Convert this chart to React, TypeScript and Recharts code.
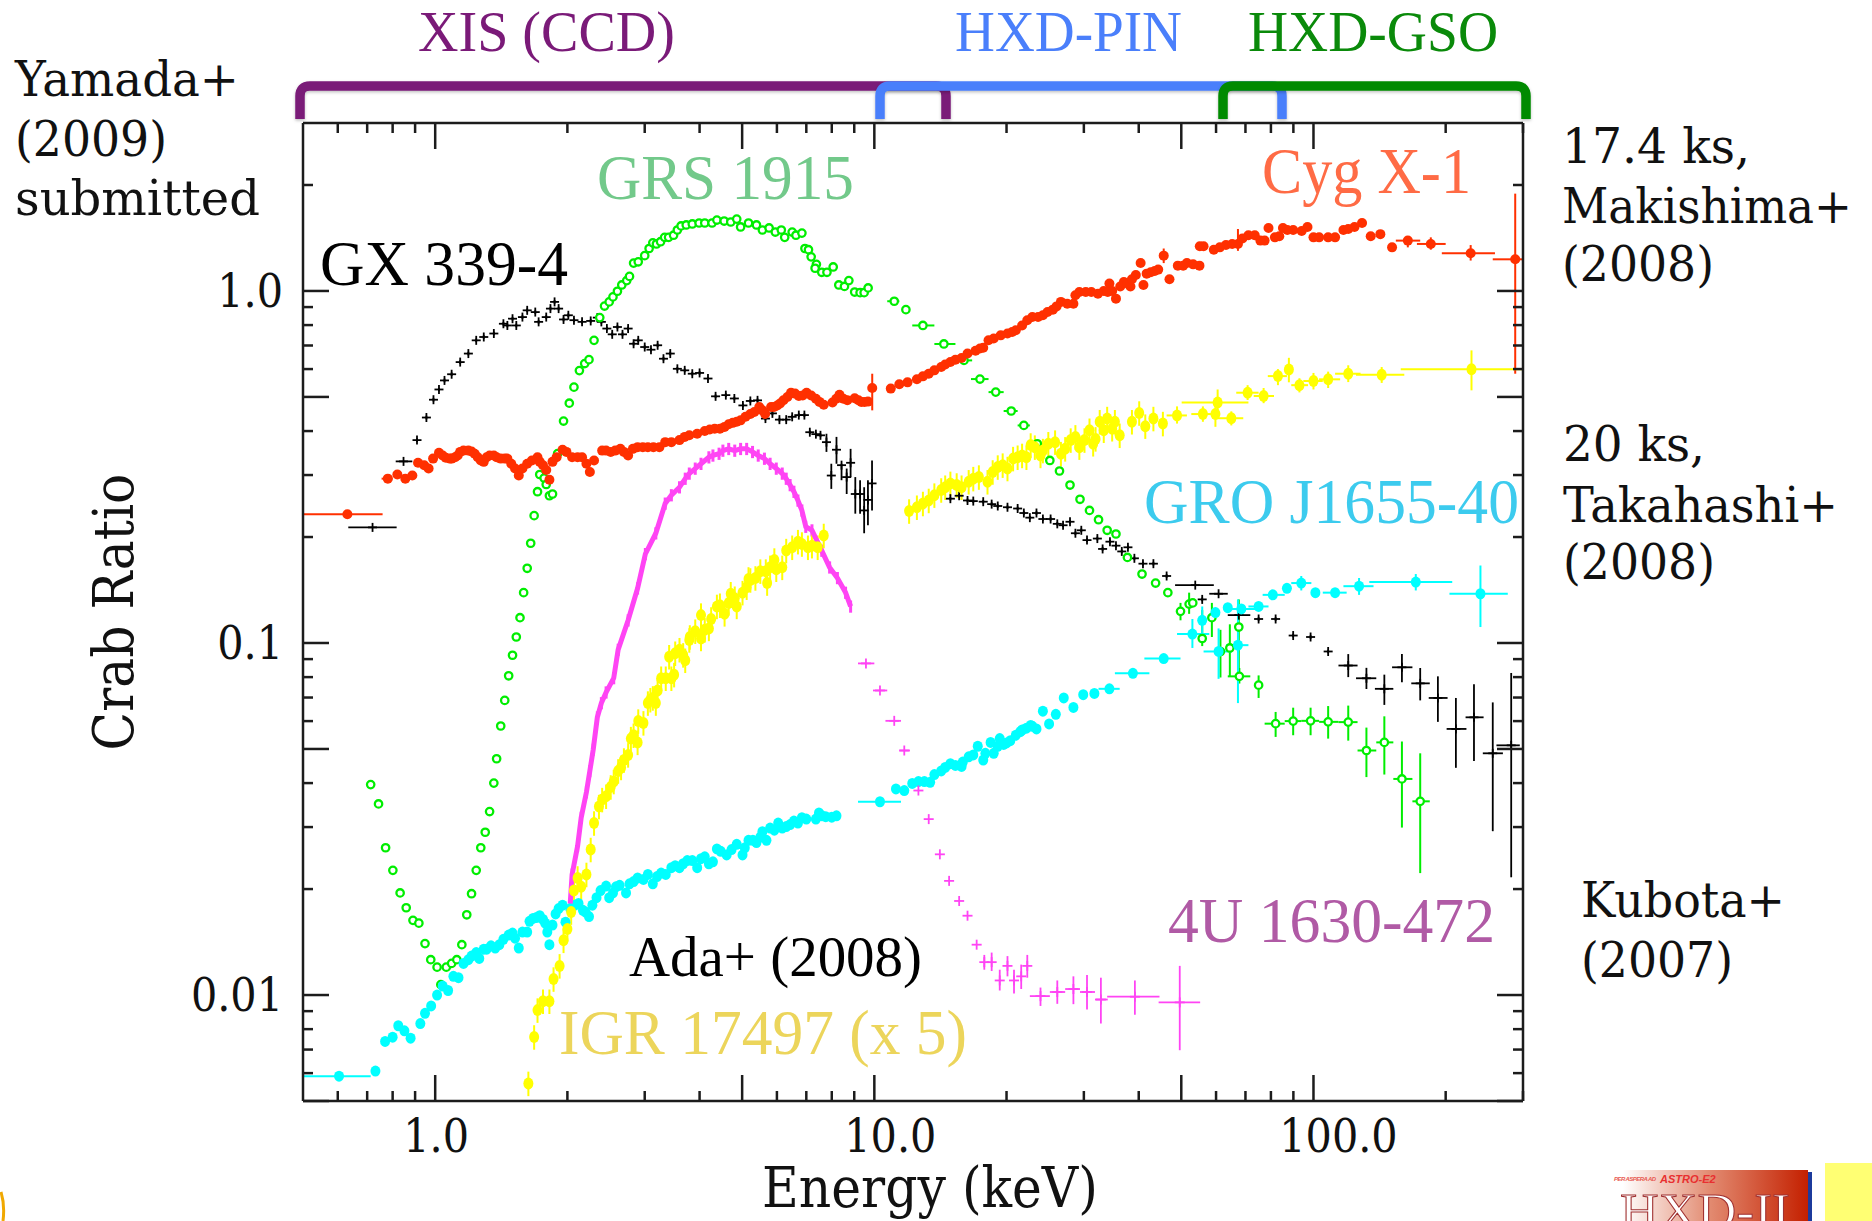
import React from 'react';
import { ScatterChart, Scatter, XAxis, YAxis, ErrorBar } from 'recharts';

// Rows: [E, ratio] | [E, ratio, yLo, yHi] | [E, ratio, xLo, xHi, yLo, yHi]
const gxRows: number[][] = [
  [0.72,0.213,0.634,0.817,0.213,0.213],[0.847,0.328,0.813,0.887,0.328,0.328],[0.909,0.377],[0.955,0.437],[0.991,0.491],[1.02,0.525],[1.05,0.557],[1.09,0.58],[1.14,0.628],[1.19,0.664],[1.24,0.724],[1.29,0.74],[1.36,0.757],[1.43,0.807],[1.46,0.798],[1.5,0.834],[1.53,0.798],[1.58,0.843],[1.62,0.881],[1.69,0.871],[1.72,0.817],[1.79,0.843],[1.83,0.891],[1.87,0.931],[1.91,0.891],[1.96,0.83],[2.01,0.853],[2.07,0.826],[2.16,0.817],[2.26,0.822],[2.34,0.84],[2.39,0.817],[2.46,0.782],[2.53,0.753],[2.6,0.79],[2.67,0.753],[2.75,0.782],[2.83,0.708],[2.9,0.724],[3.0,0.693],[3.1,0.681],[3.21,0.701],[3.31,0.642],[3.43,0.664],[3.56,0.601],[3.7,0.595],[3.85,0.582],[4.0,0.585],[4.18,0.564],[4.35,0.502],[4.59,0.506],[4.8,0.495],[5.02,0.473],[5.22,0.487],[5.42,0.489],[5.65,0.434],[5.86,0.449],[6.08,0.431],[6.3,0.431],[6.5,0.439],[6.73,0.444],[6.93,0.444],[7.13,0.397],[7.36,0.392],[7.54,0.389],
  [7.78,0.372,0.349,0.393],[7.98,0.299,0.274,0.323],[8.2,0.354,0.323,0.385],[8.42,0.32,0.29,0.323],[8.65,0.296,0.265,0.313],[8.83,0.325,0.296,0.356],[9.05,0.265,0.233,0.296],[9.28,0.265,0.233,0.29],[9.48,0.238,0.205,0.277],[9.67,0.255,0.216,0.29],[9.88,0.284,0.238,0.33],
  [14.9,0.257],[15.6,0.262],[16.3,0.254],[16.8,0.253],[17.7,0.252],[18.5,0.248],[19.1,0.245],[20.1,0.243],[21.2,0.241],[21.9,0.234],[22.6,0.227],[23.4,0.234],[24.2,0.225],[25.2,0.225],[26.1,0.218],[26.9,0.216],[27.9,0.221],[28.7,0.205],[29.6,0.209],[30.5,0.196],[32.2,0.198],[33.1,0.185],[34.4,0.194],[35.5,0.189],[36.6,0.182],[37.8,0.187],[39.1,0.174],[40.9,0.168],[43.2,0.168],[46.3,0.155],
  [53.8,0.146,48.4,59.3,0.146,0.146],[55.8,0.133],[60.8,0.138,57.9,63.8,0.138,0.138],[67.6,0.12,63.8,71.8,0.12,0.12],[75,0.117],[82,0.117],[89.9,0.105],[98.5,0.104],[108,0.0946],
  [120,0.0863,114,126,0.08,0.093],[132,0.0794,125,139,0.074,0.085],[145,0.0741,138,152,0.0667,0.0813],[159,0.0853,151,168,0.0773,0.0931],[175,0.0768,167,184,0.0687,0.0849],[192,0.0698,183,202,0.0597,0.0804],[211,0.057,201,223,0.0442,0.0698],[232,0.0615,222,244,0.0462,0.0764],[256,0.0486,243,270,0.0292,0.0678],[282,0.0512,261,295,0.0216,0.0822],
];

const grsRows: number[][] = [
  [0.713,0.0396],[0.743,0.0349],[0.771,0.0262],[0.801,0.0226],[0.832,0.0195],[0.859,0.0177],[0.89,0.0163],[0.918,0.016],[0.948,0.014],[0.977,0.0126],[1.01,0.012],[1.03,0.0107],[1.06,0.012],[1.09,0.0123],[1.12,0.0126],[1.15,0.0139],[1.18,0.0169],[1.21,0.0194],[1.24,0.0226],[1.27,0.0262],[1.3,0.029],[1.33,0.0332],[1.36,0.04],[1.38,0.0469],[1.41,0.0581],[1.44,0.0687],[1.47,0.0807],[1.5,0.0923],[1.53,0.104],[1.56,0.118],[1.59,0.139],[1.62,0.163],[1.65,0.192],[1.68,0.23],[1.71,0.269],[1.73,0.301],[1.77,0.294],[1.79,0.282],[1.82,0.262],[1.85,0.265],[1.9,0.345],[1.96,0.427],[2.02,0.48],[2.07,0.533],[2.13,0.594],[2.19,0.622],[2.24,0.638],[2.3,0.724],[2.37,0.84],[2.43,0.906],[2.49,0.931],[2.54,0.962],[2.6,0.998],[2.66,1.04],[2.73,1.07],[2.77,1.1],[2.83,1.2],[2.9,1.21],[3.0,1.26],[3.07,1.32],[3.13,1.37],[3.19,1.36],[3.26,1.38],[3.33,1.42],[3.4,1.42],[3.49,1.44],[3.56,1.49],[3.63,1.53],[3.73,1.54],[3.85,1.55],[3.99,1.56],[4.11,1.56],[4.27,1.56],[4.38,1.59],[4.55,1.58],[4.71,1.57],[4.86,1.6],[4.96,1.52],[5.17,1.56],[5.39,1.54],[5.56,1.49],[5.76,1.51],[5.95,1.47],[6.14,1.49],[6.25,1.42],[6.5,1.47],[6.63,1.44],[6.84,1.46],[6.95,1.32],[7.08,1.31],[7.18,1.25],[7.38,1.19],[7.33,1.16],[7.59,1.13],[7.8,1.13],[8.06,1.17],[8.3,1.04],[8.55,1.03],[8.75,1.07],[9.02,0.993],[9.28,0.989],[9.48,0.989],[9.68,1.02],
  [11.1,0.935,10.7,11.4,0.935,0.935],[11.8,0.885],[12.9,0.798,12.2,13.7,0.798,0.798],[14.4,0.707,13.7,15.3,0.707,0.707],[16,0.635,15.4,16.7,0.635,0.635],[17.4,0.562,16.6,18.2,0.562,0.562],[18.9,0.516,18.2,19.7,0.516,0.516],[20.5,0.456,19.7,21.2,0.456,0.456],[21.9,0.415,21.2,22.6,0.415,0.415],[23.5,0.368],[25.1,0.33],[26.4,0.308],[27.9,0.281],[29.4,0.256],[30.9,0.238],[32.4,0.224],[33.9,0.209],[35.5,0.204],[37.7,0.175],[40.7,0.157],[43.7,0.148],[46.6,0.139],
  [49.8,0.123,0.116,0.13],[52.1,0.129,0.121,0.139],[53.1,0.13],[55.8,0.103,0.098,0.124],[58.7,0.118,0.104,0.13],[61.4,0.0946,0.0798,0.109],[64.5,0.0968,0.0804,0.113],[67.6,0.111,0.0813,0.133],[67.8,0.0804,63.8,71.8,0.0767,0.0849],[75,0.0759,0.0698,0.0809],
  [82,0.059,77.4,86,0.0541,0.0637],[89.9,0.06,86,93.8,0.0547,0.0655],[98.5,0.0601,93.8,103,0.0547,0.0655],[108,0.0597,103,114,0.0535,0.0662],[120,0.0596,114,126,0.0528,0.0664],[132,0.0495,126,139,0.0416,0.0575],[145,0.0522,139,152,0.0423,0.0619],[159,0.0411,152,168,0.0299,0.0525],[175,0.0355,168,184,0.0222,0.0486],
];

const cygRows: number[][] = [
  [0.631,0.232,0.5,0.759,0.232,0.232],[0.78,0.293,0.755,0.8,0.293,0.293],[0.82,0.301],[0.855,0.293],[0.887,0.299],[0.914,0.325],[0.944,0.32],[0.966,0.313],[0.989,0.334],[1.02,0.347],[1.057,0.336],[1.09,0.334],[1.125,0.341],[1.16,0.352],[1.21,0.35],[1.25,0.337],[1.29,0.327],[1.33,0.341],[1.38,0.337],[1.44,0.334],[1.49,0.323],[1.55,0.299],[1.62,0.323],[1.71,0.337],[1.76,0.32],[1.82,0.291],[1.89,0.337],[1.95,0.354],[2.05,0.337],[2.16,0.337],[2.25,0.306],[2.3,0.33],[2.4,0.352],[2.51,0.349],[2.64,0.356],[2.75,0.341],[2.89,0.36],[3.05,0.36],[3.24,0.36],[3.34,0.372],[3.6,0.377],[3.79,0.389],[4.11,0.4],[4.33,0.406],[4.56,0.411],[4.76,0.422],[4.96,0.429],[5.22,0.447],[5.47,0.468],[5.64,0.447],[5.82,0.468],[6.01,0.473],[6.21,0.489],[6.46,0.514],[6.73,0.503],[7.01,0.514],[7.36,0.494],[7.67,0.475],[8.03,0.482],[8.33,0.507],[8.68,0.489],[9.02,0.496],[9.34,0.484],[9.67,0.485],[9.89,0.53,0.458,0.582],
  [10.9,0.528],[11.4,0.543],[12.5,0.561],[13.3,0.582],[14.2,0.608],[14.9,0.628],[15.8,0.645],[17.0,0.676],[17.7,0.69],[18.7,0.733],[20.1,0.757],[21.0,0.773],[21.7,0.798],[22.9,0.843],[24.2,0.853],[25.5,0.885],[26.6,0.931],[28.4,0.92],[29.3,0.993],[31.2,0.993],[33.3,1.0],[34.3,1.05],[35.5,0.951],[37.0,1.06],[38.3,1.03],[39.4,1.11],[40.4,1.2],[41.0,1.04],[42.6,1.13],[44.3,1.15],[45.6,1.26,1.2,1.32],[47.0,1.08],[49.1,1.18],[51.5,1.2],[55.0,1.18],[55.1,1.34],[59.3,1.31],[63.2,1.35],[67.3,1.36,1.3,1.5],[71.1,1.44],[75.7,1.39],[79.0,1.51],[81.7,1.42],[85.2,1.51],[89.9,1.49],[96.9,1.52],[100,1.42],[108,1.42],[112,1.42],[117,1.49],[124,1.52],[129,1.56],[135,1.43],[142,1.45],[151,1.33],
  [164,1.39,154,175,1.33,1.43],[185,1.36,172,200,1.31,1.42],[228,1.28,196,259,1.22,1.35],[288,1.23,256,300,0.582,1.89],
];
const cygFill: number[][] = [
  [1.04,0.341],[1.08,0.334],[1.11,0.337],[1.14,0.349],[1.19,0.352],[1.23,0.345],[1.27,0.33],[1.31,0.337],[1.36,0.341],[1.41,0.334],[1.46,0.334],[1.52,0.313],[1.58,0.313],[1.66,0.33],[1.73,0.327],[1.79,0.31],[1.85,0.327],[1.99,0.349],[2.11,0.337],[2.21,0.323],
  [2.45,0.352],[2.57,0.352],[2.69,0.349],[2.82,0.356],[2.97,0.36],[3.14,0.36],[3.45,0.372],[3.7,0.385],[3.95,0.393],[4.22,0.404],[4.45,0.406],[4.66,0.418],[4.86,0.425],[5.09,0.439],[5.33,0.453],[5.56,0.458],[5.91,0.468],[6.1,0.479],[6.34,0.5],[6.6,0.511],[6.87,0.505],[7.18,0.505],[7.5,0.484],[8.19,0.494],[8.5,0.494],[9.2,0.489],[9.5,0.484],
  [11.9,0.55],[12.9,0.572],[13.7,0.595],[14.5,0.618],[15.3,0.638],[16.3,0.664],[17.4,0.686],[18.2,0.724],[19.4,0.748],[20.6,0.765],[22.3,0.826],[23.6,0.843],[24.8,0.871],[26,0.904],[27.5,0.92],[28.7,0.972],[30.3,0.993],[32.3,0.982],[34,0.993],[34.8,1.0],[36.3,1.03],[37.7,1.05],[38.6,1.08],[41.7,1.12],[43.5,1.14],[50.5,1.18],[53.2,1.19],[56.2,1.34],[61.2,1.33],[65.3,1.36],[68.9,1.41],[73.5,1.44],[77.4,1.39],[83.6,1.43],[87.2,1.49],[94,1.48],[103,1.42],[120,1.5],
];

const groRows: number[][] = [
  [0.604,0.00588,0.5,0.713,0.00588,0.00588],[0.731,0.00608],[0.769,0.00738],[0.8,0.00759],[0.824,0.00818],[0.851,0.00791],[0.879,0.00754],[0.925,0.0083],[0.948,0.00887],[0.979,0.00931],[1.01,0.01],[1.04,0.0106],[1.07,0.0103],[1.1,0.0113],[1.13,0.0112],[1.16,0.0123],[1.21,0.0129],[1.26,0.0127],[1.31,0.0135],[1.37,0.0136],[1.43,0.0144],[1.5,0.015],[1.55,0.0136],[1.62,0.0151],[1.67,0.0165],[1.73,0.0168],[1.78,0.016],[1.82,0.0139],[1.88,0.017],[1.95,0.018],[1.98,0.0161],[2.12,0.0182],[2.17,0.0174],[2.24,0.0167],[2.33,0.0189],[2.45,0.0204],[2.49,0.0189],[2.58,0.0203],[2.72,0.0195],[2.77,0.0207],[2.89,0.0215],[3.05,0.022],[3.13,0.0207],[3.27,0.0222],[3.45,0.023],[3.6,0.023],[3.75,0.0241],[3.95,0.023],[4.11,0.0247],[4.29,0.0239],[4.38,0.026],[4.61,0.025],[4.86,0.0268],[5.01,0.025],[5.17,0.0275],[5.39,0.0271],[5.56,0.0291],[5.68,0.0275],[5.79,0.0298],[6.04,0.0308],[6.3,0.0301],[6.56,0.0312],[6.84,0.0319],[7.36,0.0316],[7.48,0.0329],[7.75,0.0321],[8.2,0.0323],
  [10.3,0.0354,9.18,11.5,0.0354,0.0354],[11.2,0.0385],[11.7,0.0381],[12.6,0.0404],[13.4,0.0402],[14.2,0.0433],[14.9,0.0454],[15.8,0.0446],[16.4,0.0475],[17.2,0.0509],[17.7,0.0465],[18.7,0.0486],[18.4,0.0522],[19.3,0.0535],[20,0.052],[21,0.0547],[21.7,0.0566],[22.7,0.0583],[23.4,0.057],[24.2,0.064],[25,0.0589],[25.9,0.0627],[27,0.0698],[28.4,0.0656],[29.9,0.0713],[31.7,0.0719],
  [34.3,0.0741,32.4,36.2,0.0741,0.0741],[38.8,0.082,35.3,42.3,0.082,0.082],[45.6,0.0903,41.2,49.8,0.0903,0.0903],[53,0.106,48.9,57.9,0.0968,0.117],[55.8,0.116,0.105,0.127],[59.8,0.122],[63.8,0.126],[68.5,0.125,63.2,75,0.125,0.125],[75,0.127,71.1,79,0.127,0.127],[80.8,0.137,76.6,86,0.137,0.137],[87,0.143],[93.8,0.148,89,98.9,0.141,0.155],[101,0.139],[112,0.139,105,119,0.139,0.139],[127,0.145,117,137,0.137,0.153],[171,0.149,134,207,0.141,0.157],[240,0.138,204,277,0.111,0.166],[60.8,0.0946,56.2,65.2,0.0791,0.11],[67.3,0.0986,63.2,71.1,0.0675,0.133],
];
const groFill: number[][] = [
  [1.19,0.0126],[1.24,0.0132],[1.29,0.0135],[1.34,0.0138],[1.4,0.0139],[1.47,0.0148],[1.52,0.0145],[1.58,0.0151],[1.64,0.0162],[1.7,0.0166],[1.76,0.0164],[1.8,0.0151],[1.85,0.0158],[1.91,0.0176],[2.03,0.0176],[2.08,0.018],[2.2,0.0172],[2.28,0.018],[2.38,0.0198],[2.54,0.0195],[2.63,0.0205],[2.83,0.021],[2.98,0.0213],[3.2,0.0217],[3.35,0.022],[3.52,0.0233],[3.67,0.0236],[3.85,0.0241],[4.03,0.0244],[4.2,0.0236],[4.47,0.0256],[4.73,0.0259],[5.07,0.0262],[5.29,0.0275],[5.5,0.0281],[5.92,0.0294],[6.17,0.0298],[6.43,0.0305],[6.7,0.0308],[7.0,0.0316],[7.6,0.0323],[8,0.032],
  [12.2,0.0399],[13,0.0404],[13.7,0.0423],[14.5,0.0443],[15.3,0.0449],[15.9,0.0459],[16.8,0.0481],[17.9,0.0486],[19.1,0.0509],[19.7,0.0515],[20.4,0.0528],[21.5,0.056],[22.2,0.0573],[22.9,0.058],
];

const u4Band: number[][] = [
  [2.03,0.0182],[2.05,0.022],[2.11,0.0265],[2.15,0.0319],[2.21,0.0377],[2.25,0.0433],[2.29,0.0498],[2.34,0.0615],[2.39,0.0675],[2.45,0.0724],[2.55,0.0795],[2.61,0.0957],[2.75,0.116],[2.89,0.143],[3.01,0.179],[3.18,0.205],[3.34,0.249],[3.45,0.263],[3.6,0.277],[3.71,0.293],[3.79,0.303],[3.91,0.313],[4.03,0.323],[4.2,0.337],[4.29,0.341],[4.43,0.345],[4.52,0.352],[4.66,0.356],[4.81,0.352],[4.96,0.356],[5.12,0.356],[5.28,0.349],[5.44,0.341],[5.62,0.334],[5.79,0.323],[5.98,0.313],[6.17,0.303],[6.3,0.293],[6.43,0.281],[6.56,0.269],[6.7,0.254],[6.84,0.238],[6.98,0.214],[7.21,0.209],[7.59,0.183],[7.91,0.164],[8.24,0.153],[8.6,0.139],[8.83,0.127],
];
const u4Rows: number[][] = [
  [9.57,0.0875,9.18,10,0.0875,0.0875],[10.3,0.0733,9.93,10.7,0.0733,0.0733],[11.1,0.0601,10.6,11.5,0.0601,0.0601],[11.7,0.0495,11.4,12.05,0.0495,0.0495],[12.6,0.0381],[13.3,0.0316],[14.1,0.0251],[14.8,0.0211],[15.6,0.0185],[16.3,0.0168],[17.1,0.0139],[17.8,0.0124,0.0118,0.013],[18.5,0.0124,0.0117,0.0132],[19.3,0.011,0.0103,0.0118],[20.1,0.0121,0.0113,0.0129],[20.8,0.011,0.0101,0.0118],[21.6,0.0113,0.0104,0.0122],[22.3,0.0121,0.0112,0.013],
  [23.9,0.00993,22.6,25.1,0.00931,0.0105],[26.1,0.0102,25.1,27.2,0.00944,0.011],[28.4,0.0104,27.2,29.4,0.00942,0.0113],[30.5,0.0102,29.4,31.8,0.0091,0.0114],[32.8,0.00971,31.8,34,0.0083,0.0112],[39.2,0.00989,33.9,44.6,0.00879,0.011],[49.6,0.00953,44.4,55.2,0.00697,0.0121],
];

const igrRows: number[][] = [
  [1.63,0.00561],[1.68,0.0076],[1.71,0.00906],[1.76,0.0096],[1.82,0.0096],[1.86,0.0111],[1.92,0.0121],[1.96,0.0143],[2.0,0.0154],[2.04,0.0172],[2.07,0.0198],[2.11,0.0215],[2.15,0.0203],[2.21,0.022],[2.26,0.0259],[2.3,0.0308],[2.36,0.0343],[2.45,0.0367],[2.51,0.039],[2.61,0.0433],[2.69,0.0465],[2.79,0.0535],[2.89,0.0522],[2.9,0.06],[3.09,0.069],[3.18,0.0675],[3.27,0.0794],[3.45,0.0794],[3.41,0.0914],[3.6,0.0957],[3.71,0.0893],[3.8,0.104],[4.03,0.103],[4.03,0.12],[4.2,0.11],[4.38,0.127],[4.56,0.121],[4.71,0.138],[4.86,0.127],[5.01,0.139],[5.17,0.152],[5.22,0.151],[5.5,0.16],[5.7,0.148],[5.79,0.164],[5.92,0.172],[6.17,0.164],[6.3,0.183],[6.5,0.187],[6.7,0.194],[7.06,0.187],[7.43,0.187],[7.67,0.202],
  [12,0.237],[12.5,0.243],[13.3,0.254],[14.2,0.272],[14.9,0.284],[15.8,0.277],[16.4,0.287],[17.3,0.296],[18.1,0.287],[19.1,0.316],[20.1,0.313],[21.2,0.337],[22.2,0.337],[23.2,0.36],[23.9,0.341],[24.9,0.368],[26.6,0.345],[28,0.377],[29.3,0.36],[30.9,0.402],[31.9,0.38],[32.6,0.425],[33.9,0.434],[34.8,0.406],[35.3,0.425],[36.2,0.389],[38.6,0.425],[40.1,0.45],[41.4,0.413],[43.2,0.434],[45.4,0.42],
  [48.9,0.443,46.3,51.5,0.42,0.47],[56,0.447,52.7,59.3,0.425,0.47],[59.8,0.447],[60.5,0.482,50.1,71.1,0.449,0.525],[65,0.435,59.8,69.2,0.415,0.455],[70.8,0.514,66.7,75,0.49,0.54],[77,0.503,73.1,81.3,0.48,0.53],[83,0.573,78.7,87,0.54,0.6],[87.9,0.598],[92.9,0.54,89,97.2,0.515,0.565],[100,0.555,94.8,105,0.525,0.585],[108,0.561,103,115,0.53,0.59],[120,0.582,112,128,0.551,0.615],[143,0.578,125,161,0.548,0.608],[229,0.599,158,300,0.522,0.678],
];
const igrFill: number[][] = [
  [2.4,0.0359],[2.55,0.0404],[2.65,0.0443],[2.75,0.0481],[2.83,0.0547],[2.98,0.0593],[3.05,0.0675],[3.13,0.0698],[3.21,0.0733],[3.35,0.0794],[3.5,0.0813],[3.52,0.0935],[3.67,0.0925],[3.79,0.102],[3.91,0.108],[4.11,0.109],[4.25,0.117],[4.45,0.128],[4.66,0.13],[4.81,0.134],[5.12,0.144],[5.36,0.153],[5.66,0.16],[5.98,0.162],[6.84,0.191],[7.21,0.189],
  [12.9,0.249],[13.7,0.263],[14.5,0.277],[15.4,0.281],[16.8,0.293],[18.6,0.306],[19.6,0.32],[20.7,0.334],[21.7,0.341],[22.7,0.365],[24.2,0.352],[25.8,0.372],[27.2,0.356],[28.7,0.385],[30.1,0.377],[31.5,0.368],[33.3,0.402],
];

const xTicks = [0.6,0.7,0.8,0.9,1,2,3,4,5,6,7,8,9,10,20,30,40,50,60,70,80,90,100,200,300];
const yTicks = [0.005,0.006,0.007,0.008,0.009,0.01,0.02,0.03,0.04,0.05,0.06,0.07,0.08,0.09,0.1,0.2,0.3,0.4,0.5,0.6,0.7,0.8,0.9,1,2];
const xLong = [1,5,10,50,100];
const yLong = [0.005,0.01,0.05,0.1,0.5,1];
const xLabels: Record<number,[string,number]> = { 1:['1.0',1], 10:['10.0',16], 100:['100.0',25] };
const yLabels: Record<number,string> = { 1:'1.0', 0.1:'0.1', 0.01:'0.01' };

const build = (rows: number[][], frac = 0) => rows.map((r) => {
  let [x, y] = r;
  let xLo = x, xHi = x, yLo = y * (1 - frac), yHi = y * (1 + frac);
  if (r.length === 4) { yLo = r[2]; yHi = r[3]; }
  if (r.length === 6) { xLo = r[2]; xHi = r[3]; yLo = r[4]; yHi = r[5]; }
  return { x, y, xe: [x - xLo, xHi - x], ye: [y - yLo, yHi - y] };
});

const INK = '#1c1c1c';
const LUCIDA = '"DejaVu Serif"';
const TIMES = '"Liberation Serif"';

const plus = (color: string, arm: number, w: number) => (p: any) => (
  <g stroke={color} strokeWidth={w}>
    <line x1={p.cx - arm} x2={p.cx + arm} y1={p.cy} y2={p.cy} />
    <line x1={p.cx} x2={p.cx} y1={p.cy - arm} y2={p.cy + arm} />
  </g>
);
const dot = (color: string, rx: number, ry: number) => (p: any) => <ellipse cx={p.cx} cy={p.cy} rx={rx} ry={ry} fill={color} />;
const ring = (color: string) => (p: any) => <circle cx={p.cx} cy={p.cy} r={3.7} fill="#fff" stroke={color} strokeWidth={2.3} />;
const none = () => <g />;

const bottomTick = (p: any) => {
  const v = p.payload.value;
  const len = xLong.includes(v) ? 26 : 10;
  const lab = xLabels[v];
  return (
    <g>
      <line x1={p.x} x2={p.x} y1={p.y} y2={p.y - len} stroke={INK} strokeWidth={2.5} />
      {lab && <text x={p.x + lab[1]} y={p.y + 51} textAnchor="middle" fontFamily={LUCIDA} fontSize={46} style={{ fontStretch: 'condensed' }} fill="#111">{lab[0]}</text>}
    </g>
  );
};
const topTick = (p: any) => {
  const v = p.payload.value;
  const len = xLong.includes(v) ? 26 : 10;
  return <line x1={p.x} x2={p.x} y1={p.y} y2={p.y + len} stroke={INK} strokeWidth={2.5} />;
};
const leftTick = (p: any) => {
  const v = p.payload.value;
  const len = yLong.includes(v) ? 26 : 10;
  const lab = yLabels[v];
  return (
    <g>
      <line x1={p.x} x2={p.x + len} y1={p.y} y2={p.y} stroke={INK} strokeWidth={2.5} />
      {lab && <text x={p.x - 20} y={p.y + 16} textAnchor="end" fontFamily={LUCIDA} fontSize={46} style={{ fontStretch: 'condensed' }} fill="#111">{lab}</text>}
    </g>
  );
};
const rightTick = (p: any) => {
  const v = p.payload.value;
  const len = yLong.includes(v) ? 26 : 10;
  return <line x1={p.x} x2={p.x - len} y1={p.y} y2={p.y} stroke={INK} strokeWidth={2.5} />;
};

const notes: [string, number, number, number, string, string, number][] = [
  ['XIS (CCD)', 418, 51, 257, '#7a1a78', TIMES, 58],
  ['HXD-PIN', 955, 51, 227, '#4a7ffb', TIMES, 58],
  ['HXD-GSO', 1248, 51, 250, '#0a8a0a', TIMES, 58],
  ['Yamada+', 15, 96, 224, '#111', LUCIDA, 48],
  ['(2009)', 15, 156, 152, '#111', LUCIDA, 48],
  ['submitted', 15, 215, 245, '#111', LUCIDA, 48],
  ['17.4 ks,', 1562, 163, 188, '#111', LUCIDA, 48],
  ['Makishima+', 1562, 223, 290, '#111', LUCIDA, 48],
  ['(2008)', 1562, 281, 152, '#111', LUCIDA, 48],
  ['20 ks,', 1563, 461, 142, '#111', LUCIDA, 48],
  ['Takahashi+', 1563, 522, 275, '#111', LUCIDA, 48],
  ['(2008)', 1563, 579, 152, '#111', LUCIDA, 48],
  ['Kubota+', 1581, 917, 204, '#111', LUCIDA, 48],
  ['(2007)', 1581, 977, 152, '#111', LUCIDA, 48],
  ['GRS 1915', 597, 199, 257, '#72c98a', TIMES, 64],
  ['GX 339-4', 320, 285, 248, '#000', TIMES, 64],
  ['Cyg X-1', 1262, 193, 209, '#ff6b45', TIMES, 66],
  ['GRO J1655-40', 1144, 523, 375, '#3ccbee', TIMES, 64],
  ['4U 1630-472', 1168, 942, 327, '#b05aa5', TIMES, 64],
  ['Ada+ (2008)', 629, 976, 293, '#000', TIMES, 56],
  ['IGR 17497 (x 5)', 559, 1054, 408, '#ecd55b', TIMES, 64],
];

const bracket = (x1: number, x2: number, color: string) => (
  <path d={`M${x1} 119 L${x1} 96 Q${x1} 86 ${x1 + 10} 86 L${x2 - 10} 86 Q${x2} 86 ${x2} 96 L${x2} 119`} fill="none" stroke={color} strokeWidth={9.5} filter="url(#soft)" />
);

export default function App() {
  return (
    <div style={{ position: 'absolute', left: 0, top: 0, width: 1872, height: 1221, overflow: 'hidden', background: '#fff' }}>
      <ScatterChart width={1872} height={1221} margin={{ top: 122, right: 348, bottom: 0, left: 0 }}>
        <XAxis
          dataKey="x" type="number" scale="log" domain={[0.5, 300]} allowDataOverflow ticks={xTicks} interval={0}
          height={120} tickLine={false} tickSize={0} tickMargin={0} tick={bottomTick} stroke={INK} strokeWidth={2.5}
          label={{ value: 'Energy (keV)', position: 'insideBottom', offset: 14, dx: 17, style: { fontFamily: LUCIDA, fontSize: 56, fontStretch: 'condensed', fill: '#111' } }}
        />
        <XAxis
          xAxisId="top" orientation="top" dataKey="x" type="number" scale="log" domain={[0.5, 300]} allowDataOverflow ticks={xTicks} interval={0}
          height={1} tickLine={false} tickSize={0} tickMargin={0} tick={topTick} stroke={INK} strokeWidth={2.5}
        />
        <YAxis
          dataKey="y" type="number" scale="log" domain={[0.005, 3]} allowDataOverflow ticks={yTicks} interval={0}
          width={303} tickLine={false} tickSize={0} tickMargin={0} tick={leftTick} stroke={INK} strokeWidth={2.5}
          label={{ value: 'Crab Ratio', angle: -90, position: 'insideLeft', offset: 113, dy: 0, style: { textAnchor: 'middle', fontFamily: LUCIDA, fontSize: 56, fontStretch: 'condensed', fill: '#111' } }}
        />
        <YAxis
          yAxisId="right" orientation="right" dataKey="y" type="number" scale="log" domain={[0.005, 3]} allowDataOverflow ticks={yTicks} interval={0}
          width={1} tickLine={false} tickSize={0} tickMargin={0} tick={rightTick} stroke={INK} strokeWidth={2.5}
        />

        <Scatter name="GX 339-4" data={build(gxRows, 0.012)} shape={plus('#000', 4.5, 1.8)} isAnimationActive={false}>
          <ErrorBar direction="x" dataKey="xe" width={0} stroke="#000" strokeWidth={1.8} isAnimationActive={false} />
          <ErrorBar direction="y" dataKey="ye" width={0} stroke="#000" strokeWidth={1.8} isAnimationActive={false} />
        </Scatter>
        <Scatter name="GRS 1915" data={build(grsRows)} shape={ring('#00ee00')} isAnimationActive={false}>
          <ErrorBar direction="x" dataKey="xe" width={0} stroke="#00ee00" strokeWidth={2} isAnimationActive={false} />
          <ErrorBar direction="y" dataKey="ye" width={0} stroke="#00ee00" strokeWidth={2} isAnimationActive={false} />
        </Scatter>
        <Scatter name="Cyg X-1" data={build(cygRows.concat(cygFill), 0.02)} shape={dot('#ff3000', 5, 5)} isAnimationActive={false}>
          <ErrorBar direction="x" dataKey="xe" width={0} stroke="#ff3000" strokeWidth={2} isAnimationActive={false} />
          <ErrorBar direction="y" dataKey="ye" width={0} stroke="#ff3000" strokeWidth={2} isAnimationActive={false} />
        </Scatter>
        <Scatter name="GRO J1655-40" data={build(groRows.concat(groFill), 0.02)} shape={dot('#00ffff', 5, 5.5)} isAnimationActive={false}>
          <ErrorBar direction="x" dataKey="xe" width={0} stroke="#00ffff" strokeWidth={2} isAnimationActive={false} />
          <ErrorBar direction="y" dataKey="ye" width={0} stroke="#00ffff" strokeWidth={2} isAnimationActive={false} />
        </Scatter>
        <Scatter name="4U 1630-472 band" data={build(u4Band, 0.04)} shape={none} line={{ stroke: '#ff44f4', strokeWidth: 5 }} isAnimationActive={false}>
          <ErrorBar direction="y" dataKey="ye" width={0} stroke="#ff44f4" strokeWidth={3} isAnimationActive={false} />
        </Scatter>
        <Scatter name="4U 1630-472" data={build(u4Rows)} shape={plus('#ff44f4', 5, 1.8)} isAnimationActive={false}>
          <ErrorBar direction="x" dataKey="xe" width={0} stroke="#ff44f4" strokeWidth={1.8} isAnimationActive={false} />
          <ErrorBar direction="y" dataKey="ye" width={0} stroke="#ff44f4" strokeWidth={1.8} isAnimationActive={false} />
        </Scatter>
        <Scatter name="IGR 17497" data={build(igrRows.concat(igrFill), 0.08)} shape={dot('#ffff00', 5, 6)} isAnimationActive={false}>
          <ErrorBar direction="x" dataKey="xe" width={0} stroke="#ffff00" strokeWidth={2} isAnimationActive={false} />
          <ErrorBar direction="y" dataKey="ye" width={0} stroke="#ffff00" strokeWidth={2} isAnimationActive={false} />
        </Scatter>
      </ScatterChart>

      <svg width={1872} height={1221} style={{ position: 'absolute', left: 0, top: 0, pointerEvents: 'none' }}>
        <defs>
          <filter id="soft" x="-5%" y="-30%" width="110%" height="160%">
            <feDropShadow dx="0" dy="1.5" stdDeviation="1.5" floodColor="#000" floodOpacity="0.25" />
          </filter>
          <linearGradient id="logo" x1="0" x2="1" y1="0" y2="0">
            <stop offset="0.05" stopColor="#ffffff" />
            <stop offset="0.5" stopColor="#e28a70" />
            <stop offset="1" stopColor="#c42000" />
          </linearGradient>
        </defs>
        {bracket(300, 946, '#7a1a78')}
        {bracket(880, 1282, '#4a7ffb')}
        {bracket(1223, 1526, '#008a00')}
        {notes.map(([t, x, y, w, c, f, s], i) => (
          <text key={i} x={x} y={y} textLength={w} lengthAdjust="spacingAndGlyphs" fontFamily={f} fontSize={s} fill={c}>{t}</text>
        ))}
        <path d="M1 1192 Q5 1205 3 1221" fill="none" stroke="#f0a800" strokeWidth={3} />
        <rect x={1808} y={1172} width={4} height={49} fill="#1c3a9c" />
        <rect x={1613} y={1170} width={195} height={51} fill="url(#logo)" />
        <text x={1614} y={1181} fontFamily={'"Liberation Sans"'} fontStyle="italic" fontWeight="bold" fontSize={6} textLength={42} fill="#e85a50">PER ASPERA AD</text>
        <text x={1660} y={1183} fontFamily={'"Liberation Sans"'} fontStyle="italic" fontWeight="bold" fontSize={11} fill="#e83030">ASTRO-E2</text>
        <text x={1620} y={1228} fontFamily={TIMES} fontSize={50} textLength={170} lengthAdjust="spacingAndGlyphs" fill="#fff" stroke="#a03030" strokeWidth={1}>HXD-II</text>
        <rect x={1825} y={1163} width={47} height={58} fill="#ffff73" />
      </svg>
    </div>
  );
}
